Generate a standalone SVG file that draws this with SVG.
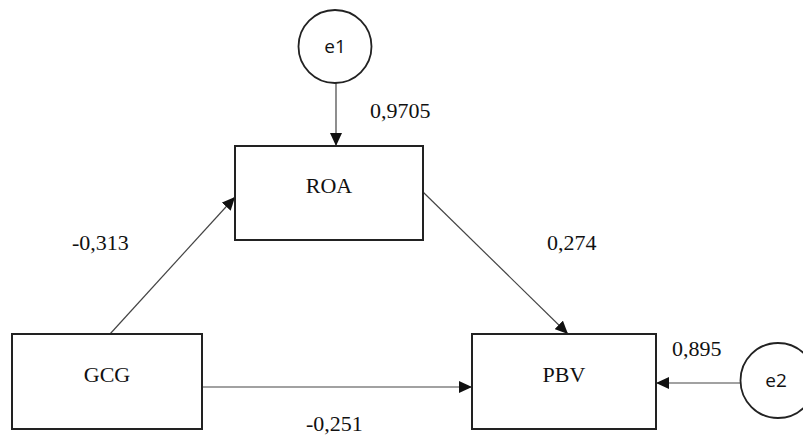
<svg xmlns="http://www.w3.org/2000/svg" width="803" height="435" viewBox="0 0 803 435">
<style>
.box{fill:#fff;stroke:#222;stroke-width:2}
.err{fill:#fff;stroke:#222;stroke-width:1.8}
.lbl{font-family:"Liberation Serif","Times New Roman",serif;font-size:22px;fill:#111;text-anchor:middle}
.elbl{font-family:"Open Sans","Liberation Sans",sans-serif;font-size:19px;fill:#111;text-anchor:middle}
.coef{font-family:"Liberation Serif","Times New Roman",serif;font-size:22px;fill:#111}
.edge{stroke:#444;stroke-width:1.2;fill:none;marker-end:url(#ah)}
</style>
<defs>
<marker id="ah" markerUnits="userSpaceOnUse" markerWidth="14" markerHeight="12" refX="13" refY="6" orient="auto">
<path d="M0,0 L13,6 L0,12 Z" fill="#111"/>
</marker>
</defs>
<rect width="803" height="435" fill="#fff"/>
<g id="connectors">
<line class="edge" x1="336" y1="83" x2="336" y2="146"/>
<line class="edge" x1="110" y1="334" x2="235" y2="197"/>
<line class="edge" x1="423" y1="192" x2="568" y2="334"/>
<line class="edge" x1="202" y1="387" x2="472" y2="387"/>
<line class="edge" x1="741" y1="383" x2="656" y2="383"/>
</g>
<g id="e1"><circle class="err" cx="335" cy="46.5" r="36.5"/><text class="elbl" x="335" y="53">e1</text></g>
<g id="ROA"><rect class="box" x="235" y="146" width="188" height="94"/><text class="lbl" x="329" y="193">ROA</text></g>
<g id="GCG"><rect class="box" x="12" y="334" width="190" height="95"/><text class="lbl" x="107" y="382">GCG</text></g>
<g id="PBV"><rect class="box" x="472" y="334" width="184" height="95"/><text class="lbl" x="564" y="382">PBV</text></g>
<g id="e2"><circle class="err" cx="778" cy="380.5" r="37.5"/><text class="elbl" x="776" y="387">e2</text></g>
<g id="labels">
<text class="coef" x="370" y="118">0,9705</text>
<text class="coef" x="72" y="250">-0,313</text>
<text class="coef" x="547" y="250">0,274</text>
<text class="coef" x="672" y="356">0,895</text>
<text class="coef" x="306" y="431">-0,251</text>
</g>
</svg>
